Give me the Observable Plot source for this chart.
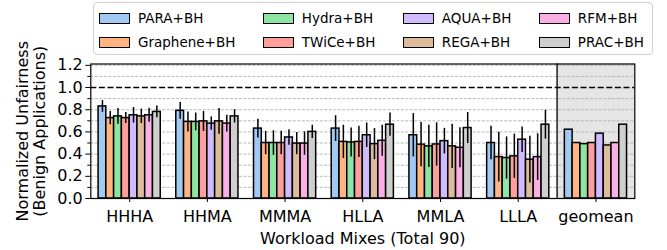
<!DOCTYPE html>
<html><head><meta charset="utf-8">
<script src="https://cdn.jsdelivr.net/npm/d3@7"></script>
<script src="https://cdn.jsdelivr.net/npm/@observablehq/plot@0.6"></script>
<style>
body{margin:0;background:#fff;font-family:"DejaVu Sans",sans-serif;}
#wrap{position:relative;width:667px;height:250px;overflow:hidden;}
#chart{position:absolute;left:0;top:0;}
#legend{position:absolute;left:93px;top:2px;width:560px;box-sizing:border-box;height:53px;padding:3px 8px 0 5px;
  border:1px solid #cfcfcf;border-radius:4px;background:#fff;display:grid;grid-template-rows:24px 24px;
  grid-auto-flow:column;justify-content:space-between;font-size:13.5px;color:#000;}
.item{display:flex;align-items:center;white-space:nowrap;}
.sw{width:31px;height:11px;border:1.5px solid #000;box-sizing:border-box;margin-right:8px;}
</style></head>
<body>
<div id="wrap"><div id="chart"></div><div id="legend"></div></div>
<script>
const groups = ["HHHA","HHMA","MMMA","HLLA","MMLA","LLLA","geomean"];
const series = ["PARA+BH","Graphene+BH","Hydra+BH","TWiCe+BH","AQUA+BH","REGA+BH","RFM+BH","PRAC+BH"];
const colors = ["#a1c9f4","#ffb482","#8de5a1","#ff9f9b","#d0bbff","#debb9b","#fab0e4","#cfcfcf"];

// values per series, one per group (last = geomean)
const PARA     = [0.83, 0.79, 0.63, 0.63, 0.57, 0.50, 0.62];
const Graphene = [0.725, 0.69, 0.50, 0.51, 0.485, 0.373, 0.50];
const Hydra    = [0.74, 0.69, 0.50, 0.505, 0.47, 0.365, 0.49];
const TWiCe    = [0.725, 0.695, 0.50, 0.51, 0.487, 0.38, 0.50];
const AQUA     = [0.75, 0.675, 0.55, 0.57, 0.517, 0.53, 0.584];
const REGA     = [0.74, 0.695, 0.495, 0.49, 0.47, 0.35, 0.478];
const RFM      = [0.75, 0.675, 0.495, 0.52, 0.457, 0.373, 0.50];
const PRAC     = [0.78, 0.74, 0.60, 0.665, 0.635, 0.665, 0.665];

// error bar half-lengths (geomean has none)
const PARA_err     = [0.053, 0.075, 0.084, 0.116, 0.195, 0.15];
const Graphene_err = [0.06, 0.09, 0.105, 0.15, 0.2, 0.225];
const Hydra_err    = [0.07, 0.08, 0.11, 0.13, 0.19, 0.19];
const TWiCe_err    = [0.05, 0.09, 0.105, 0.14, 0.195, 0.2];
const AQUA_err     = [0.07, 0.06, 0.07, 0.11, 0.115, 0.115];
const REGA_err     = [0.065, 0.115, 0.1, 0.14, 0.2, 0.21];
const RFM_err      = [0.063, 0.075, 0.105, 0.14, 0.18, 0.21];
const PRAC_err     = [0.053, 0.06, 0.06, 0.105, 0.14, 0.13];

const yMajor = [0, 0.2, 0.4, 0.6, 0.8, 1.0, 1.2];
const yMinor = [0.1, 0.3, 0.5, 0.7, 0.9, 1.1];
const yGrid  = [0.1, 0.2, 0.3, 0.4, 0.5, 0.6, 0.7, 0.8, 0.9, 1.1, 1.2];
const refLine = [1.0];

const values = [PARA, Graphene, Hydra, TWiCe, AQUA, REGA, RFM, PRAC];
const errs = [PARA_err, Graphene_err, Hydra_err, TWiCe_err, AQUA_err, REGA_err, RFM_err, PRAC_err];

const barW = 0.1;
const rows = [];
series.forEach((s, si) => groups.forEach((g, gi) => {
  rows.push({series: s, group: g, gi, si, value: values[si][gi], err: errs[si][gi]});
}));
const center = d => d.gi + (d.si - (series.length - 1) / 2) * barW;
const withErr = rows.filter(d => d.err != null);
const lastIdx = groups.length - 1;

const chart = Plot.plot({
  width: 667, height: 250,
  marginLeft: 90.3, marginRight: 32.7, marginTop: 63.5, marginBottom: 52,
  x: {domain: [-0.5, groups.length - 0.5]},
  y: {domain: [0, 1.212]},
  color: {domain: series, range: colors},
  style: {fontFamily: "DejaVu Sans", fontSize: "16px", color: "#000", background: "transparent"},
  marks: [
    Plot.rect([lastIdx], {x1: d => d - 0.5, x2: d => d + 0.5, fill: "#e5e5e5"}),
    Plot.ruleY(yGrid, {stroke: "#b0b0b0", strokeWidth: 0.9, strokeDasharray: "3,1.5"}),
    Plot.ruleY(refLine, {stroke: "#000", strokeWidth: 1.6, strokeDasharray: "6,2.6"}),
    Plot.ruleX([lastIdx - 0.5], {stroke: "#000", strokeWidth: 1.3}),
    Plot.rectY(rows, {x1: d => center(d) - barW / 2, x2: d => center(d) + barW / 2, y1: 0, y2: "value",
      fill: "series", stroke: "#000", strokeWidth: 1.5}),
    Plot.ruleX(withErr, {x: center, y1: d => d.value - d.err, y2: d => d.value + d.err, stroke: "#000", strokeWidth: 1.5}),
    Plot.frame({stroke: "#000", strokeWidth: 1.2}),
    Plot.axisY({ticks: yMajor, tickSize: 5, tickPadding: 3, tickFormat: d3.format(".1f"), label: null, fontSize: 16}),
    Plot.axisY({ticks: yMinor, tickSize: 3, tickFormat: () => "", label: null}),
    Plot.axisX({ticks: d3.range(groups.length), tickFormat: i => groups[i], tickSize: 4, tickPadding: 8, label: null, fontSize: 16}),
    Plot.text(["Normalized Unfairness\n(Benign Applications)"], {frameAnchor: "left", rotate: -90, dx: -60,
      textAnchor: "middle", lineAnchor: "middle", lineHeight: 1.08, fontSize: 16, fill: "#000"}),
    Plot.text(["Workload Mixes (Total 90)"], {frameAnchor: "bottom", dy: 40, lineAnchor: "middle", fontSize: 16, fill: "#000"})
  ]
});
document.getElementById("chart").append(chart);

const leg = document.getElementById("legend");
series.forEach((s, i) => {
  const it = document.createElement("div"); it.className = "item";
  const sw = document.createElement("span"); sw.className = "sw"; sw.style.background = colors[i];
  const tx = document.createElement("span"); tx.textContent = s;
  it.append(sw, tx); leg.append(it);
});
</script>
</body></html>
